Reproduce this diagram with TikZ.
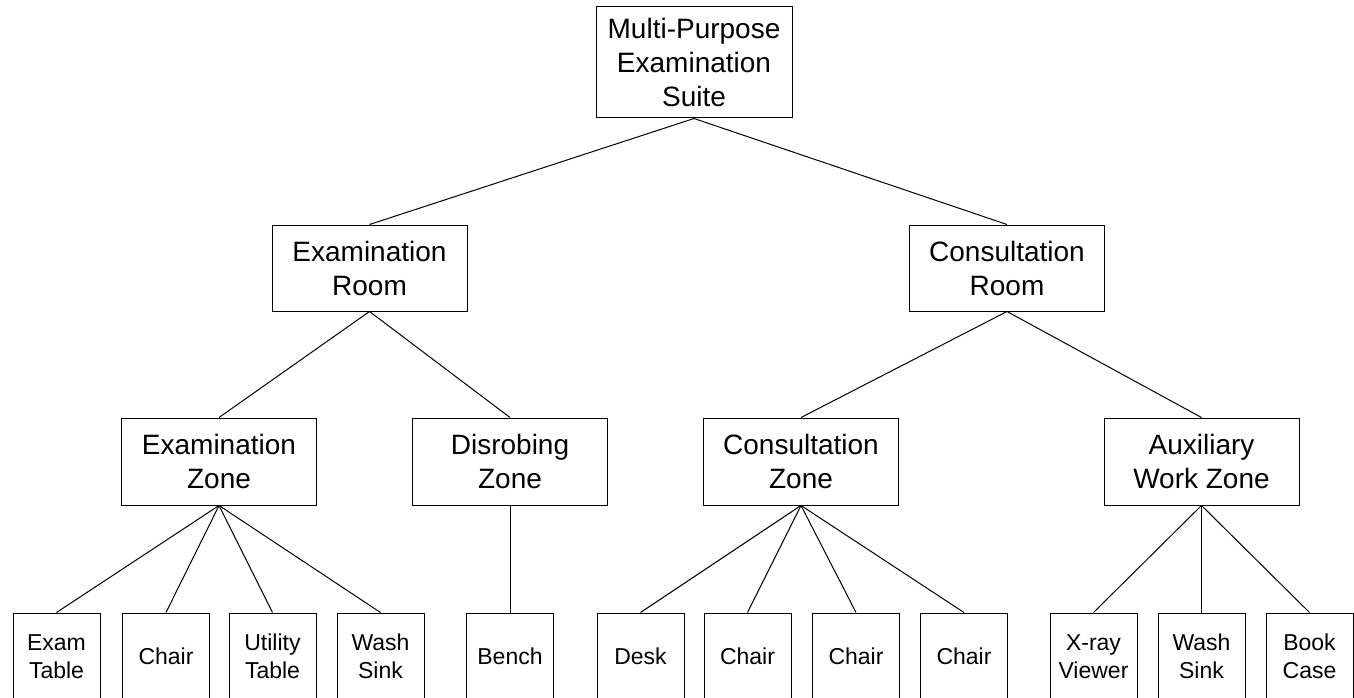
\documentclass[tikz,border=0pt]{standalone}
\usepackage{fontspec}
\setmainfont{Liberation Sans}
\begin{document}
\begin{tikzpicture}[x=1pt,y=-1pt,line width=1pt,
  box/.style={draw=black,rectangle,inner sep=0pt,align=center,font=\fontsize{28}{34}\selectfont},
  midbox/.style={box,minimum width=195pt,minimum height=86pt},
  leafbox/.style={box,minimum width=87pt,minimum height=87pt,font=\fontsize{23}{28}\selectfont},
  link/.style={draw=black,line width=1pt}]
\useasboundingbox (0,0) rectangle (1354,698);
\fill[white] (0,0) rectangle (1354,698);
\clip (0,0) rectangle (1354,698);
% root
\node[box,minimum width=196pt,minimum height=111pt] (root) at (694,62.5) {Multi-Purpose\\Examination\\Suite};
% rooms
\node[midbox] (exroom) at (369.5,268) {Examination\\Room};
\node[midbox] (coroom) at (1007,268) {Consultation\\Room};
% zones
\node[midbox,minimum height=87pt] (exzone) at (219,461.5) {Examination\\Zone};
\node[midbox,minimum height=87pt] (diszone) at (510,461.5) {Disrobing\\Zone};
\node[midbox,minimum height=87pt] (cozone) at (801,461.5) {Consultation\\Zone};
\node[midbox,minimum height=87pt] (auxzone) at (1201.5,461.5) {Auxiliary\\Work Zone};
% leaves
\node[leafbox] (examtable) at (56.5,656.5) {Exam\\Table};
\node[leafbox] (chairA) at (166,656.5) {Chair};
\node[leafbox] (utility) at (272.5,656.5) {Utility\\Table};
\node[leafbox] (washA) at (380.5,656.5) {Wash\\Sink};
\node[leafbox] (bench) at (510,656.5) {Bench};
\node[leafbox] (desk) at (640.5,656.5) {Desk};
\node[leafbox] (chairB) at (747.5,656.5) {Chair};
\node[leafbox] (chairC) at (856,656.5) {Chair};
\node[leafbox] (chairD) at (964,656.5) {Chair};
\node[leafbox] (xray) at (1093.5,656.5) {X-ray\\Viewer};
\node[leafbox] (washB) at (1201.5,656.5) {Wash\\Sink};
\node[leafbox] (book) at (1309.5,656.5) {Book\\Case};
% connectors
\draw[link] (root.south) -- (exroom.north);
\draw[link] (root.south) -- (coroom.north);
\draw[link] (exroom.south) -- (exzone.north);
\draw[link] (exroom.south) -- (diszone.north);
\draw[link] (coroom.south) -- (cozone.north);
\draw[link] (coroom.south) -- (auxzone.north);
\foreach \c in {examtable,chairA,utility,washA} \draw[link] (exzone.south) -- (\c.north);
\draw[link] (diszone.south) -- (bench.north);
\foreach \c in {desk,chairB,chairC,chairD} \draw[link] (cozone.south) -- (\c.north);
\foreach \c in {xray,washB,book} \draw[link] (auxzone.south) -- (\c.north);
\end{tikzpicture}
\end{document}
